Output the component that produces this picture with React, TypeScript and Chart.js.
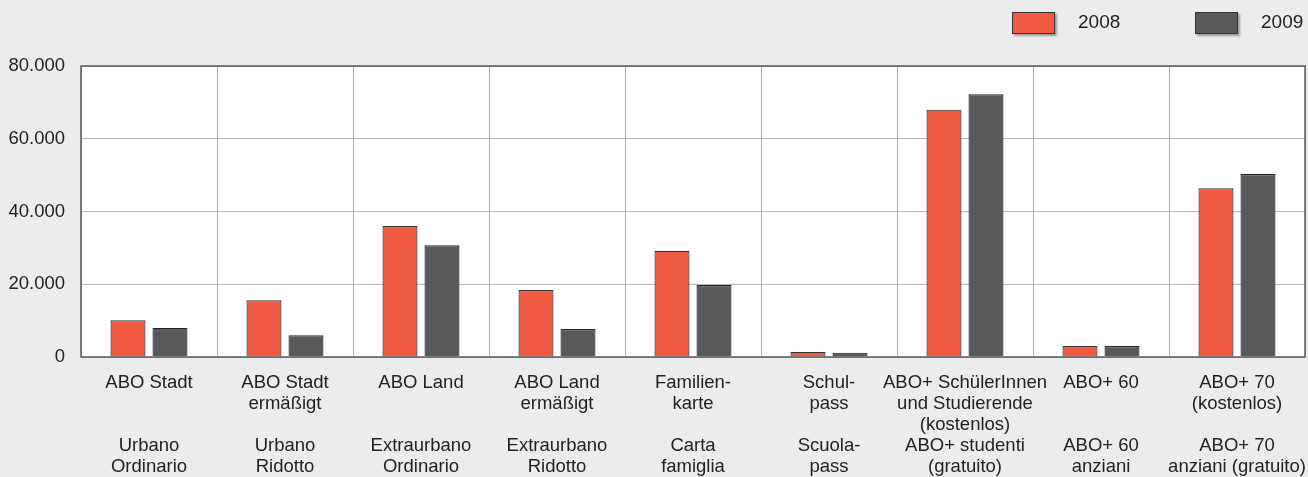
import React, { useEffect, useRef } from "react";
import { Chart, registerables } from "chart.js";

Chart.register(...registerables);

const seriesNames = ["2008", "2009"];
const categoriesDe: string[][] = [
  ["ABO Stadt"],
  ["ABO Stadt", "ermäßigt"],
  ["ABO Land"],
  ["ABO Land", "ermäßigt"],
  ["Familien-", "karte"],
  ["Schul-", "pass"],
  ["ABO+ SchülerInnen", "und Studierende", "(kostenlos)"],
  ["ABO+ 60"],
  ["ABO+ 70", "(kostenlos)"],
];
const categoriesIt: string[][] = [
  ["Urbano", "Ordinario"],
  ["Urbano", "Ridotto"],
  ["Extraurbano", "Ordinario"],
  ["Extraurbano", "Ridotto"],
  ["Carta", "famiglia"],
  ["Scuola-", "pass"],
  ["ABO+ studenti", "(gratuito)"],
  ["ABO+ 60", "anziani"],
  ["ABO+ 70", "anziani (gratuito)"],
];
const values2008 = [10100, 15600, 36000, 18400, 29200, 1400, 68000, 3000, 46400];
const values2009 = [8000, 6000, 30700, 7700, 19800, 1200, 72200, 3000, 50300];
const yTicks = [0, 20000, 40000, 60000, 80000];

const COLORS = ["#f05a40", "#58595b"];
const FONT = "'Liberation Sans', Arial, sans-serif";

function fmt(v: number): string {
  return String(Math.round(v)).replace(/\B(?=(\d{3})+(?!\d))/g, ".");
}

const bgPlugin = {
  id: "bgPlugin",
  beforeDraw(chart: any) {
    const { ctx, chartArea, width, height } = chart;
    ctx.save();
    ctx.fillStyle = "#ececee";
    ctx.fillRect(0, 0, width, height);
    ctx.fillStyle = "#ffffff";
    ctx.fillRect(chartArea.left, chartArea.top, chartArea.right - chartArea.left, chartArea.bottom - chartArea.top);
    ctx.restore();
  },
  afterDatasetsDraw(chart: any) {
    const { ctx, chartArea } = chart;
    ctx.save();
    ctx.strokeStyle = "#5a5a5a";
    ctx.lineWidth = 1.5;
    ctx.strokeRect(chartArea.left, chartArea.top, chartArea.right - chartArea.left, chartArea.bottom - chartArea.top);
    ctx.restore();
  },
  afterDraw(chart: any) {
    const { ctx } = chart;
    const boxes = [1012, 1195];
    ctx.save();
    chart.data.datasets.forEach((ds: any, i: number) => {
      const x = boxes[i];
      ctx.save();
      ctx.shadowColor = "rgba(0,0,0,0.35)";
      ctx.shadowOffsetX = 2;
      ctx.shadowOffsetY = 2;
      ctx.shadowBlur = 2;
      ctx.fillStyle = ds.backgroundColor;
      ctx.fillRect(x, 12, 43, 22);
      ctx.restore();
      ctx.strokeStyle = "#333333";
      ctx.lineWidth = 1;
      ctx.strokeRect(x + 0.5, 12.5, 42, 21);
      ctx.fillStyle = "#222222";
      ctx.font = `19px ${FONT}`;
      ctx.textBaseline = "middle";
      ctx.textAlign = "left";
      ctx.fillText(ds.label, x + 66, 23);
    });
    ctx.restore();
  },
};

export default function App() {
  const ref = useRef<HTMLCanvasElement | null>(null);
  useEffect(() => {
    if (!ref.current) return;
    const labels = categoriesDe.map((de, i) => {
      const pad = [...de];
      while (pad.length < 3) pad.push("");
      return [...pad, ...categoriesIt[i]];
    });
    const chart = new Chart(ref.current, {
      type: "bar",
      data: {
        labels,
        datasets: [
          {
            label: seriesNames[0],
            data: values2008,
            backgroundColor: COLORS[0],
            borderColor: "#333333",
            borderWidth: 1.2,
            categoryPercentage: 0.618,
            barPercentage: 0.833,
          },
          {
            label: seriesNames[1],
            data: values2009,
            backgroundColor: COLORS[1],
            borderColor: "#262626",
            borderWidth: 1.2,
            categoryPercentage: 0.618,
            barPercentage: 0.833,
          },
        ],
      },
      options: {
        responsive: false,
        animation: false,
        layout: { padding: { top: 66, right: 3, left: 0, bottom: 0 } },
        plugins: { legend: { display: false }, tooltip: { enabled: false } },
        scales: {
          x: {
            grid: { color: "#b4b4b4", offset: true, drawTicks: false, lineWidth: 1 },
            border: { display: false },
            ticks: {
              font: { family: FONT, size: 18.5, lineHeight: 1.14 },
              color: "#222222",
              padding: 15,
              maxRotation: 0,
              autoSkip: false,
            },
            afterFit: (s: any) => {
              s.height = 120;
              s.paddingLeft = 0;
              s.paddingRight = 0;
            },
          },
          y: {
            min: 0,
            max: 80000,
            afterBuildTicks: (s: any) => {
              s.ticks = yTicks.map((v) => ({ value: v }));
            },
            grid: { color: "#b4b4b4", drawTicks: false, lineWidth: 1 },
            border: { display: false },
            ticks: {
              font: { family: FONT, size: 18.5 },
              color: "#222222",
              padding: 16,
              callback: (v: any) => fmt(Number(v)),
            },
            afterFit: (s: any) => {
              s.width = 81;
              s.paddingTop = 0;
              s.paddingBottom = 0;
            },
          },
        },
      },
      plugins: [bgPlugin],
    });
    return () => chart.destroy();
  }, []);
  return (
    <div style={{ position: "absolute", left: 0, top: 0, width: 1308, height: 477 }}>
      <canvas ref={ref} width={1308} height={477} />
    </div>
  );
}
